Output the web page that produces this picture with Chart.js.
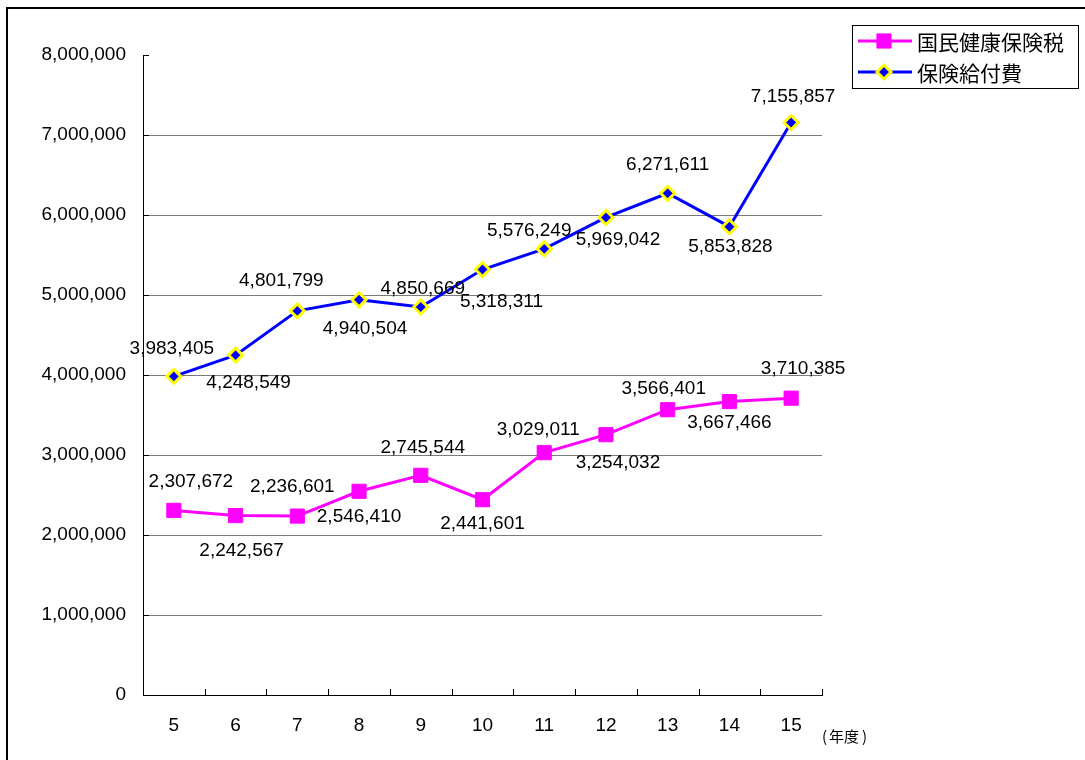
<!DOCTYPE html>
<html>
<head>
<meta charset="utf-8">
<script src="https://cdn.jsdelivr.net/npm/chart.js@4.4.0/dist/chart.umd.min.js"></script>
<style>
  body { margin: 0; background: #fff; }
  #wrap { position: relative; width: 1085px; height: 760px; }
</style>
</head>
<body>
<div id="wrap"><canvas id="chart"></canvas></div>
<script>
// fiscal years (平成)
const years = ['5', '6', '7', '8', '9', '10', '11', '12', '13', '14', '15'];
// 国民健康保険税
const taxValues = [2307672, 2242567, 2236601, 2546410, 2745544, 2441601, 3029011, 3254032, 3566401, 3667466, 3710385];
// 保険給付費
const benefitValues = [3983405, 4248549, 4801799, 4940504, 4850669, 5318311, 5576249, 5969042, 6271611, 5853828, 7155857];
const yTicks = [0, 1000000, 2000000, 3000000, 4000000, 5000000, 6000000, 7000000, 8000000];

// hand-dragged label nudges (like the original spreadsheet), [dx, dy] from the point
const taxLabelNudge = [[17, -29], [6, 35], [-5, -29], [0, 25], [2, -28], [0, 24], [-6, -23], [12, 28], [-4, -21], [0, 21], [12, -29]];
const benefitLabelNudge = [[-2, -28], [13, 28], [-16, -30], [6, 29], [2, -18], [19, 32], [-15, -18], [12, 22], [0, -29], [1, 20], [2, -26]];

const FONT = '"Liberation Sans", Arial, sans-serif';
const JP_FONT = '"Noto Sans CJK JP", sans-serif';

function fmt(n) {
  return n.toLocaleString('en-US');
}

// draws the outer frame, inside tick marks, value labels, legend and unit text
const extras = {
  id: 'extras',
  afterDraw(chart) {
    const ctx = chart.ctx;
    const area = chart.chartArea;
    const xs = chart.scales.x;
    const ys = chart.scales.y;

    ctx.save();

    // outer frame (cut off on the right / bottom)
    ctx.strokeStyle = '#000';
    ctx.lineWidth = 2;
    ctx.strokeRect(7, 8, 1200, 900);

    // x tick marks pointing up, on category boundaries
    ctx.lineWidth = 1;
    ctx.strokeStyle = '#000';
    const w = xs.getPixelForTick(1) - xs.getPixelForTick(0);
    for (let i = 0; i <= years.length; i++) {
      const x = Math.round(xs.getPixelForTick(0) - w / 2 + i * w) + 0.5;
      ctx.beginPath();
      ctx.moveTo(x, area.bottom);
      ctx.lineTo(x, area.bottom - 6);
      ctx.stroke();
    }
    // y tick stubs
    yTicks.forEach(v => {
      const y = Math.round(ys.getPixelForValue(v)) + 0.5;
      ctx.beginPath();
      ctx.moveTo(area.left, y);
      ctx.lineTo(area.left + 6, y);
      ctx.stroke();
    });

    // value labels
    const nudges = [taxLabelNudge, benefitLabelNudge];
    ctx.fillStyle = '#000';
    ctx.font = '19px ' + FONT;
    ctx.textAlign = 'center';
    ctx.textBaseline = 'middle';
    chart.data.datasets.forEach((ds, di) => {
      const meta = chart.getDatasetMeta(di);
      meta.data.forEach((pt, i) => {
        const n = nudges[di][i];
        ctx.fillText(fmt(ds.data[i]), pt.x + n[0], pt.y + n[1]);
      });
    });

    // unit text under the axis
    ctx.font = '15px ' + JP_FONT;
    ctx.textAlign = 'left';
    ctx.fillText('(', 822, 736);
    ctx.fillText('年度', 829, 736);
    ctx.fillText(')', 862, 736);

    // legend
    ctx.fillStyle = '#fff';
    ctx.fillRect(852, 25, 226, 63);
    ctx.strokeStyle = '#000';
    ctx.lineWidth = 1;
    ctx.strokeRect(852.5, 25.5, 226, 63);

    const rows = [
      { ds: chart.data.datasets[0], y: 41 },
      { ds: chart.data.datasets[1], y: 72 }
    ];
    rows.forEach(r => {
      ctx.strokeStyle = r.ds.borderColor;
      ctx.lineWidth = 3;
      ctx.beginPath();
      ctx.moveTo(858, r.y);
      ctx.lineTo(912, r.y);
      ctx.stroke();
      ctx.fillStyle = r.ds.pointBackgroundColor;
      ctx.strokeStyle = r.ds.pointBorderColor;
      ctx.lineWidth = r.ds.pointBorderWidth;
      ctx.beginPath();
      if (r.ds.pointStyle === 'rect') {
        const s = Math.SQRT1_2 * r.ds.pointRadius;
        ctx.rect(884 - s, r.y - s, 2 * s, 2 * s);
      } else {
        const rr = r.ds.pointRadius;
        ctx.moveTo(884 - rr, r.y);
        ctx.lineTo(884, r.y - rr);
        ctx.lineTo(884 + rr, r.y);
        ctx.lineTo(884, r.y + rr);
        ctx.closePath();
      }
      ctx.fill();
      ctx.stroke();
      ctx.fillStyle = '#000';
      ctx.font = '21px ' + JP_FONT;
      ctx.textBaseline = 'middle';
      ctx.fillText(r.ds.label, 917, r.y + 1);
    });

    ctx.restore();
  }
};

document.addEventListener('DOMContentLoaded', () => {
  const ctx = document.getElementById('chart').getContext('2d');

  new Chart(ctx, {
    type: 'line',
    data: {
      labels: years,
      datasets: [
        {
          label: '国民健康保険税',
          data: taxValues,
          borderColor: '#FF00FF',
          borderWidth: 3,
          pointStyle: 'rect',
          pointRadius: 10,
          pointBorderWidth: 1,
          pointBackgroundColor: '#FF00FF',
          pointBorderColor: '#FF00FF',
          tension: 0
        },
        {
          label: '保険給付費',
          data: benefitValues,
          borderColor: '#0000FF',
          borderWidth: 3,
          pointStyle: 'rectRot',
          pointRadius: 7,
          pointBorderWidth: 3,
          pointBackgroundColor: '#0000FF',
          pointBorderColor: '#FFFF00',
          tension: 0
        }
      ]
    },
    options: {
      responsive: true,
      maintainAspectRatio: false,
      animation: false,
      layout: { padding: { left: 0, top: 55, right: 263, bottom: 0 } },
      plugins: {
        legend: { display: false },
        tooltip: { enabled: false }
      },
      scales: {
        x: {
          offset: true,
          grid: { display: false, drawTicks: false },
          border: { display: true, color: '#000', width: 1 },
          ticks: { color: '#000', font: { family: FONT, size: 19 }, padding: 19, maxRotation: 0 },
          afterFit: s => { s.height = 65; }
        },
        y: {
          min: 0,
          max: 8000000,
          grid: {
            drawTicks: false,
            color: c => (c.tick.value === 0 || c.tick.value === 8000000) ? 'rgba(0,0,0,0)' : '#7a7a7a',
            lineWidth: 1
          },
          border: { display: true, color: '#000', width: 1 },
          afterBuildTicks: s => { s.ticks = yTicks.map(v => ({ value: v })); },
          ticks: {
            color: '#000',
            font: { family: FONT, size: 19 },
            padding: 17,
            callback: v => fmt(v)
          },
          afterFit: s => { s.width = 143; }
        }
      }
    },
    plugins: [extras]
  });
});
</script>
</body>
</html>
